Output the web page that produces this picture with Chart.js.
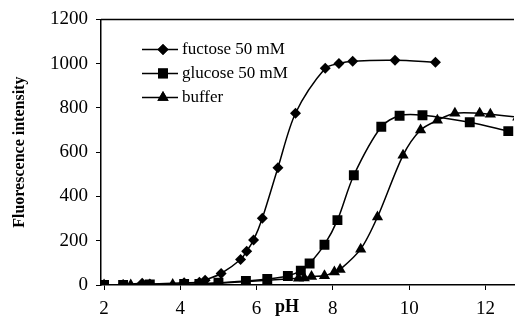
<!DOCTYPE html>
<html>
<head>
<meta charset="utf-8">
<script src="https://cdn.jsdelivr.net/npm/chart.js@4.4.1/dist/chart.umd.min.js"></script>
<style>
  html, body { margin: 0; padding: 0; background: #fff; }
  #wrap { width: 521px; height: 325px; }
</style>
</head>
<body>
<div id="wrap"><canvas id="myChart" width="521" height="325"></canvas></div>
<script>
// values
const fructoseX = [2.0, 2.5, 3.0, 3.2, 4.1, 4.5, 4.65, 5.07, 5.58, 5.74, 5.92, 6.15, 6.56, 7.02, 7.8, 8.16, 8.52, 9.63, 10.69];
const fructoseY = [0, 2, 8, 5, 10, 12, 22, 52, 115, 153, 203, 302, 530, 776, 979, 1001, 1011, 1015, 1006];

const glucoseX = [2.0, 2.5, 3.2, 4.1, 4.5, 5.0, 5.72, 6.28, 6.82, 7.16, 7.39, 7.78, 8.12, 8.55, 9.27, 9.75, 10.35, 11.59, 12.6];
const glucoseY = [0, 0, 2, 5, 5, 10, 18, 27, 41, 65, 97, 182, 293, 496, 715, 765, 767, 735, 695];

const bufferX = [2.0, 2.7, 3.8, 4.65, 7.1, 7.25, 7.44, 7.78, 8.04, 8.19, 8.73, 9.17, 9.84, 10.3, 10.74, 11.2, 11.85, 12.13, 12.85];
const bufferY = [0, 0, 2, 5, 30, 32, 38, 42, 59, 70, 162, 307, 586, 700, 744, 776, 776, 771, 758];

const seriesNames = ["fuctose 50 mM", "glucose 50 mM", "buffer"];
const xTicks = [2, 4, 6, 8, 10, 12];

const serif = "'Liberation Serif', 'Times New Roman', serif";
const toPts = (xs, ys) => xs.map((x, i) => ({ x: x, y: ys[i] }));

function series(label, pts, style, radius) {
  return {
    label: label,
    data: pts,
    borderColor: "#000",
    backgroundColor: "#000",
    borderWidth: 1.5,
    pointStyle: style,
    pointRadius: radius,
    pointBorderWidth: 0,
    tension: 0.3,
    fill: false
  };
}

// legend with line + marker, like the original
const lineLegend = {
  id: "lineLegend",
  afterDraw(chart) {
    const ctx = chart.ctx;
    const left = chart.chartArea.left;
    const top = chart.chartArea.top;
    ctx.save();
    chart.data.datasets.forEach((ds, i) => {
      const y = top + 30 + i * 24;
      ctx.strokeStyle = "#000";
      ctx.lineWidth = 1.5;
      ctx.beginPath();
      ctx.moveTo(left + 41, y);
      ctx.lineTo(left + 77, y);
      ctx.stroke();
      ctx.fillStyle = "#000";
      Chart.helpers.drawPoint(ctx, { pointStyle: ds.pointStyle, radius: ds.pointRadius, borderWidth: 0 }, left + 62, y);
      ctx.fill();
      ctx.font = "17px " + serif;
      ctx.textBaseline = "middle";
      ctx.textAlign = "left";
      ctx.fillText(ds.label, left + 81, y);
    });

    // top frame line
    ctx.beginPath();
    ctx.lineWidth = 1.5;
    ctx.moveTo(left, top);
    ctx.lineTo(chart.chartArea.right, top);
    ctx.stroke();

    // "pH" sits on the tick label line
    const xs = chart.scales.x;
    ctx.font = "bold 18px " + serif;
    ctx.textAlign = "center";
    ctx.textBaseline = "top";
    ctx.fillText("pH", xs.getPixelForValue(6.8), xs.top + 13);
    ctx.restore();
  }
};

const ctx = document.getElementById("myChart").getContext("2d");

new Chart(ctx, {
  type: "line",
  data: {
    datasets: [
      series(seriesNames[0], toPts(fructoseX, fructoseY), "rectRot", 5.5),
      series(seriesNames[1], toPts(glucoseX, glucoseY), "rect", 7),
      series(seriesNames[2], toPts(bufferX, bufferY), "triangle", 6.5)
    ]
  },
  options: {
    responsive: false,
    animation: false,
    layout: { padding: { top: 19, right: 0, left: 0, bottom: 0 } },
    plugins: {
      legend: { display: false },
      tooltip: { enabled: false }
    },
    scales: {
      x: {
        type: "linear",
        min: 1.92,
        max: 12.75,
        afterBuildTicks: s => { s.ticks = xTicks.map(v => ({ value: v })); },
        afterFit: s => { s.height = 40; },
        grid: { drawOnChartArea: false, tickLength: 5, color: "#000", lineWidth: 1 },
        border: { color: "#000", width: 1.5 },
        ticks: {
          color: "#000",
          padding: 8,
          maxRotation: 0,
          callback: v => String(v),
          font: { family: serif, size: 19 }
        }
      },
      y: {
        min: 0,
        max: 1200,
        afterFit: s => { s.width = 101; },
        grid: { drawOnChartArea: false, tickLength: 5, color: "#000", lineWidth: 1 },
        border: { color: "#000", width: 1.5 },
        ticks: {
          stepSize: 200,
          color: "#000",
          padding: 8,
          callback: v => String(v),
          font: { family: serif, size: 19 }
        },
        title: {
          display: true,
          text: "Fluorescence intensity",
          color: "#000",
          padding: { top: 10, bottom: 0 },
          font: { family: serif, size: 16, weight: "bold" }
        }
      }
    }
  },
  plugins: [lineLegend]
});
</script>
</body>
</html>
